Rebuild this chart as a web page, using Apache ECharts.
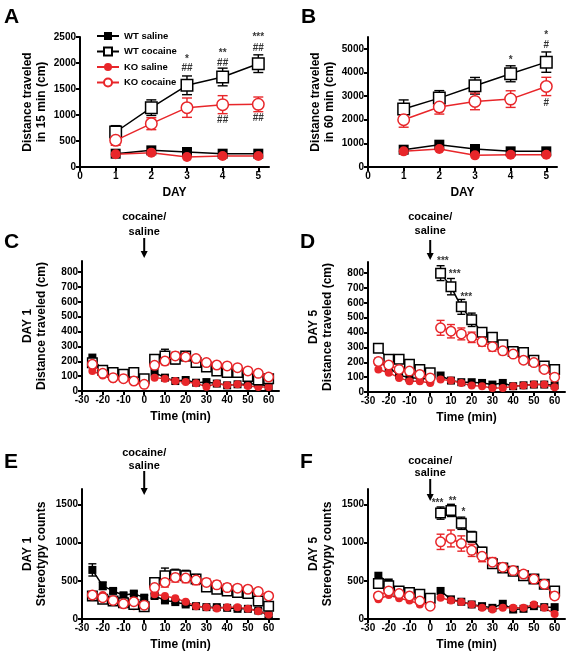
<!DOCTYPE html>
<html>
<head>
<meta charset="utf-8">
<script src="https://cdn.jsdelivr.net/npm/echarts@6/dist/echarts.min.js"></script>
<style>
html, body { margin: 0; padding: 0; background: #fff; }
#main { width: 573px; height: 661px; }
</style>
</head>
<body>
<div id="main"></div>
<script>
'use strict';

// x values
let days = [1, 2, 3, 4, 5];
let times = [-25, -20, -15, -10, -5, 0, 5, 10, 15, 20, 25, 30, 35, 40, 45, 50, 55, 60];
let groupNames = ['WT saline', 'WT cocaine', 'KO saline', 'KO cocaine'];

// A - distance in 15 min
let aWtSal = [256, 320, 288, 256, 256];
let aWtCoc = [673, 1141, 1571, 1731, 1987];
let aWtCocErr = [122, 150, 180, 170, 170];
let aKoSal = [244, 276, 192, 212, 212];
let aKoCoc = [513, 833, 1141, 1199, 1205];
let aKoCocErr = [96, 115, 186, 173, 141];
let aMarks = [[3, 2080, '*'], [3, 1890, '##'], [4, 2192, '**'], [4, 2000, '##'], [4, 897, '##'],
              [5, 2487, '***'], [5, 2276, '##'], [5, 929, '##']];

// B - distance in 60 min
let bWtSal = [732, 944, 761, 662, 662];
let bWtCoc = [2451, 2915, 3437, 3944, 4437];
let bWtCocErr = [387, 317, 352, 338, 430];
let bKoSal = [662, 761, 493, 521, 521];
let bKoCoc = [2000, 2535, 2775, 2873, 3408];
let bKoCocErr = [317, 296, 352, 352, 387];
let bMarks = [[4, 4535, '*'], [5, 5590, '*'], [5, 5170, '#'], [5, 2704, '#']];

// C - day 1 distance
let cWtSal = [225, 135, 112, 100, 83, 67, 124, 90, 67, 74, 56, 60, 50, 38, 45, 45, 50, 30];
let cWtCoc = [190, 140, 124, 112, 124, 83, 213, 236, 213, 236, 191, 162, 135, 124, 124, 97, 74, 83];
let cWtCocErr = [25, 15, 15, 15, 20, 20, 30, 45, 30, 25, 20, 20, 15, 15, 15, 15, 15, 15];
let cKoSal = [135, 105, 79, 83, 61, 38, 90, 83, 67, 61, 52, 29, 50, 38, 45, 34, 27, 27];
let cKoCoc = [180, 119, 90, 83, 67, 45, 173, 202, 236, 229, 218, 191, 175, 169, 157, 135, 119, 94];
let cKoCocErr = [15, 10, 10, 10, 10, 10, 20, 25, 25, 25, 20, 15, 15, 15, 15, 15, 15, 15];

// D - day 5 distance
let dWtSal = [205, 164, 114, 95, 95, 84, 111, 77, 66, 66, 61, 50, 61, 39, 45, 50, 50, 45];
let dWtCoc = [295, 220, 220, 186, 152, 130, 800, 709, 573, 486, 402, 368, 318, 273, 266, 214, 175, 152];
let dWtCocErr = [25, 20, 20, 20, 20, 15, 50, 55, 50, 45, 30, 25, 25, 20, 20, 15, 15, 15];
let dKoSal = [152, 130, 95, 73, 73, 61, 84, 77, 61, 43, 39, 27, 27, 39, 43, 50, 50, 32];
let dKoCoc = [205, 182, 152, 141, 118, 95, 432, 409, 391, 368, 339, 305, 277, 255, 214, 198, 152, 100];
let dKoCocErr = [15, 15, 15, 15, 15, 10, 50, 45, 40, 35, 30, 30, 25, 20, 20, 15, 15, 15];
let dMarks = [[6.1, 883, '***'], [11.8, 793, '***'], [17.4, 636, '***']];

// E - day 1 stereotypy
let eWtSal = [642, 434, 367, 310, 332, 279, 301, 243, 221, 190, 168, 155, 155, 146, 133, 133, 111, 44];
let eWtSalErr = [80, 50, 30, 30, 30, 30, 30, 30, 20, 20, 20, 20, 20, 20, 20, 20, 20, 20];
let eWtCoc = [301, 257, 235, 212, 190, 159, 478, 566, 580, 566, 522, 420, 389, 367, 345, 332, 235, 168];
let eWtCocErr = [30, 30, 30, 30, 30, 30, 60, 100, 70, 70, 60, 50, 50, 40, 40, 40, 40, 40];
let eKoSal = [301, 314, 243, 190, 168, 168, 323, 301, 270, 226, 168, 155, 137, 155, 155, 133, 102, 58];
let eKoCoc = [314, 279, 243, 199, 226, 181, 411, 478, 544, 535, 509, 478, 447, 411, 403, 389, 358, 301];
let eKoCocErr = [30, 30, 30, 30, 30, 30, 50, 60, 60, 60, 60, 50, 50, 50, 40, 40, 40, 40];

// F - day 5 stereotypy
let fWtSal = [566, 478, 367, 345, 301, 257, 367, 257, 226, 190, 168, 146, 199, 124, 133, 168, 155, 155];
let fWtCoc = [465, 434, 367, 345, 323, 270, 1385, 1420, 1252, 1075, 876, 721, 668, 624, 566, 522, 456, 367];
let fWtCocErr = [60, 40, 40, 30, 30, 30, 80, 80, 80, 70, 60, 50, 50, 40, 40, 40, 40, 40];
let fKoSal = [257, 314, 270, 243, 190, 212, 279, 243, 221, 190, 146, 124, 146, 146, 146, 190, 146, 66];
let fKoCoc = [301, 367, 332, 301, 235, 168, 1009, 1053, 987, 898, 819, 743, 677, 633, 588, 522, 456, 301];
let fKoCocErr = [40, 40, 40, 40, 40, 30, 100, 110, 100, 80, 70, 60, 50, 50, 40, 40, 40, 40];
let fMarks = [[3.5, 1514, '***'], [10.8, 1544, '**'], [16, 1391, '*']];

let RED = '#e8262a';
let FONT = '"Liberation Sans", Arial, sans-serif';

let styles = {
    'WT saline': {color: '#000', symbol: 'rect', fill: true, z: 3},
    'WT cocaine': {color: '#000', symbol: 'rect', fill: false, z: 4},
    'KO saline': {color: RED, symbol: 'circle', fill: true, z: 3},
    'KO cocaine': {color: RED, symbol: 'circle', fill: false, z: 5}
};

let panels = [
    {x: days, ys: [aWtSal, aWtCoc, aKoSal, aKoCoc], errs: [null, aWtCocErr, null, aKoCocErr], marks: aMarks,
     grid: {left: 80, top: 37, width: 189, height: 130}, xMin: 0, xMax: 5.3, xTicks: [0, 1, 2, 3, 4, 5],
     yMax: 2500, yTicks: [0, 500, 1000, 1500, 2000, 2500], xName: 'DAY', yName: 'Distance traveled\nin 15 min (cm)',
     size: 11.5, cap: 5, split: false},
    {x: days, ys: [bWtSal, bWtCoc, bKoSal, bKoCoc], errs: [null, bWtCocErr, null, bKoCocErr], marks: bMarks,
     grid: {left: 368, top: 37, width: 189, height: 130}, xMin: 0, xMax: 5.3, xTicks: [0, 1, 2, 3, 4, 5],
     yMax: 5500, yTicks: [0, 1000, 2000, 3000, 4000, 5000], xName: 'DAY', yName: 'Distance traveled\nin 60 min (cm)',
     size: 11.5, cap: 5, split: false},
    {x: times, ys: [cWtSal, cWtCoc, cKoSal, cKoCoc], errs: [null, cWtCocErr, null, cKoCocErr], marks: [],
     grid: {left: 82, top: 261, width: 197, height: 130}, xMin: -30, xMax: 65,
     xTicks: [-30, -20, -10, 0, 10, 20, 30, 40, 50, 60],
     yMax: 875, yTicks: [0, 100, 200, 300, 400, 500, 600, 700, 800], xName: 'Time (min)', yName: 'DAY 1\nDistance traveled (cm)',
     size: 9.5, cap: 4, split: true},
    {x: times, ys: [dWtSal, dWtCoc, dKoSal, dKoCoc], errs: [null, dWtCocErr, null, dKoCocErr], marks: dMarks,
     grid: {left: 368, top: 262, width: 197, height: 130}, xMin: -30, xMax: 65,
     xTicks: [-30, -20, -10, 0, 10, 20, 30, 40, 50, 60],
     yMax: 875, yTicks: [0, 100, 200, 300, 400, 500, 600, 700, 800], xName: 'Time (min)', yName: 'DAY 5\nDistance traveled (cm)',
     size: 9.5, cap: 4, split: true},
    {x: times, ys: [eWtSal, eWtCoc, eKoSal, eKoCoc], errs: [eWtSalErr, eWtCocErr, null, eKoCocErr], marks: [],
     grid: {left: 82, top: 489, width: 197, height: 130}, xMin: -30, xMax: 65,
     xTicks: [-30, -20, -10, 0, 10, 20, 30, 40, 50, 60],
     yMax: 1700, yTicks: [0, 500, 1000, 1500], xName: 'Time (min)', yName: 'DAY 1\nStereotypy counts',
     size: 9.5, cap: 4, split: true},
    {x: times, ys: [fWtSal, fWtCoc, fKoSal, fKoCoc], errs: [null, fWtCocErr, null, fKoCocErr], marks: fMarks,
     grid: {left: 368, top: 489, width: 197, height: 130}, xMin: -30, xMax: 65,
     xTicks: [-30, -20, -10, 0, 10, 20, 30, 40, 50, 60],
     yMax: 1700, yTicks: [0, 500, 1000, 1500], xName: 'Time (min)', yName: 'DAY 5\nStereotypy counts',
     size: 9.5, cap: 4, split: true}
];

let letters = [['A', 4, 7], ['B', 301, 7], ['C', 4, 232], ['D', 300, 232], ['E', 4, 452], ['F', 300, 452]];
// y of the "cocaine/" line, "saline" line, arrow top, arrow tip, per time panel
let cueLayout = {2: [217, 232, 238, 258], 3: [217, 231, 240, 260], 4: [453, 466, 471, 495], 5: [461, 473, 479, 501]};

let axisText = {color: '#000', fontWeight: 'bold', fontSize: 10, fontFamily: FONT};
let nameText = {color: '#000', fontWeight: 'bold', fontSize: 12, fontFamily: FONT, lineHeight: 14};
let plain = function(v) { return String(v); };

let lineSeries = function(idx, name, pts, size) {
    let st = styles[name];
    return {
        type: 'line', name: name, xAxisIndex: idx, yAxisIndex: idx,
        data: pts, symbol: st.symbol, symbolSize: st.fill ? size - 1.5 : size, showAllSymbol: true,
        lineStyle: {color: st.color, width: 1.5},
        itemStyle: {color: st.fill ? st.color : '#fff', borderColor: st.color, borderWidth: st.fill ? 0 : 1.5},
        z: st.z, animation: false, silent: true
    };
};

let errSeries = function(idx, xs, ys, errs, color, cap) {
    let data = [];
    xs.forEach(function(x, i) {
        if (errs && errs[i]) data.push([x, ys[i], errs[i]]);
    });
    return {
        type: 'custom', xAxisIndex: idx, yAxisIndex: idx, z: 2, silent: true, animation: false,
        encode: {x: 0, y: 1}, data: data,
        renderItem: function(params, api) {
            let x = api.value(0), y = api.value(1), e = api.value(2);
            let top = api.coord([x, y + e]), bot = api.coord([x, y - e]);
            let style = {stroke: color, lineWidth: 1.4};
            return {type: 'group', children: [
                {type: 'line', shape: {x1: top[0], y1: top[1], x2: bot[0], y2: bot[1]}, style: style},
                {type: 'line', shape: {x1: top[0] - cap, y1: top[1], x2: top[0] + cap, y2: top[1]}, style: style},
                {type: 'line', shape: {x1: bot[0] - cap, y1: bot[1], x2: bot[0] + cap, y2: bot[1]}, style: style}
            ]};
        }
    };
};

let grids = [], xAxes = [], yAxes = [], series = [];

panels.forEach(function(p, idx) {
    grids.push(p.grid);
    xAxes.push({
        type: 'value', gridIndex: idx, min: p.xMin, max: p.xMax,
        axisLine: {show: true, onZero: false, lineStyle: {color: '#000', width: 2}},
        axisTick: {show: true, length: 4, lineStyle: {color: '#000', width: 2}, customValues: p.xTicks},
        axisLabel: Object.assign({margin: 4, customValues: p.xTicks, formatter: plain}, axisText),
        splitLine: {show: false},
        name: p.xName, nameLocation: 'middle', nameGap: 19, nameTextStyle: nameText
    });
    yAxes.push({
        type: 'value', gridIndex: idx, min: 0, max: p.yMax,
        axisLine: {show: true, onZero: false, lineStyle: {color: '#000', width: 2}},
        axisTick: {show: true, length: 4, lineStyle: {color: '#000', width: 2}, customValues: p.yTicks},
        axisLabel: Object.assign({margin: 4, customValues: p.yTicks, formatter: plain}, axisText),
        splitLine: {show: false},
        name: p.yName, nameLocation: 'middle', nameGap: p.split ? 33 : 31, nameTextStyle: nameText
    });

    groupNames.forEach(function(name, g) {
        let ys = p.ys[g];
        let pts = p.x.map(function(x, i) { return [x, ys[i]]; });
        if (p.split) {
            series.push(lineSeries(idx, name, pts.slice(0, 6), p.size));
            series.push(lineSeries(idx, name, pts.slice(6), p.size));
        } else {
            series.push(lineSeries(idx, name, pts, p.size));
        }
        if (p.errs[g]) series.push(errSeries(idx, p.x, ys, p.errs[g], styles[name].color, p.cap));
    });

    if (p.marks.length) {
        series.push({
            type: 'scatter', xAxisIndex: idx, yAxisIndex: idx, symbolSize: 1, clip: false, z: 6,
            silent: true, animation: false, itemStyle: {color: 'transparent'},
            data: p.marks.map(function(m) { return {value: [m[0], m[1]], label: {formatter: m[2]}}; }),
            label: {show: true, position: 'inside', color: '#000', fontWeight: 'bold', fontSize: 10, fontFamily: FONT}
        });
    }
});

let myChart = echarts.init(document.getElementById('main'), null, {renderer: 'canvas'});

let option = {
    backgroundColor: '#fff',
    animation: false,
    grid: grids,
    xAxis: xAxes,
    yAxis: yAxes,
    legend: {
        data: groupNames, orient: 'vertical', left: 91, top: 26,
        itemWidth: 22, itemHeight: 10, itemGap: 5.5,
        textStyle: {color: '#000', fontWeight: 'bold', fontSize: 9.5, fontFamily: FONT},
        selectedMode: false
    },
    series: series
};
myChart.setOption(option);

// panel letters and injection cues
let graphics = letters.map(function(l) {
    return {type: 'text', left: l[1], top: l[2],
        style: {text: l[0], fill: '#000', font: 'bold 21px ' + FONT}};
});
Object.keys(cueLayout).forEach(function(k) {
    let c = cueLayout[k];
    let px = myChart.convertToPixel({gridIndex: Number(k)}, [0, 0])[0];
    graphics.push({type: 'text', x: px, y: c[0], style: {text: 'cocaine/', fill: '#000',
        font: 'bold 11px ' + FONT, align: 'center', verticalAlign: 'middle'}});
    graphics.push({type: 'text', x: px, y: c[1], style: {text: 'saline', fill: '#000',
        font: 'bold 11px ' + FONT, align: 'center', verticalAlign: 'middle'}});
    graphics.push({type: 'line', shape: {x1: px, y1: c[2], x2: px, y2: c[3] - 5},
        style: {stroke: '#000', lineWidth: 2}});
    graphics.push({type: 'polygon', shape: {points: [[px - 3.5, c[3] - 7], [px + 3.5, c[3] - 7], [px, c[3]]]},
        style: {fill: '#000'}});
});
myChart.setOption({graphic: graphics});
</script>
</body>
</html>
